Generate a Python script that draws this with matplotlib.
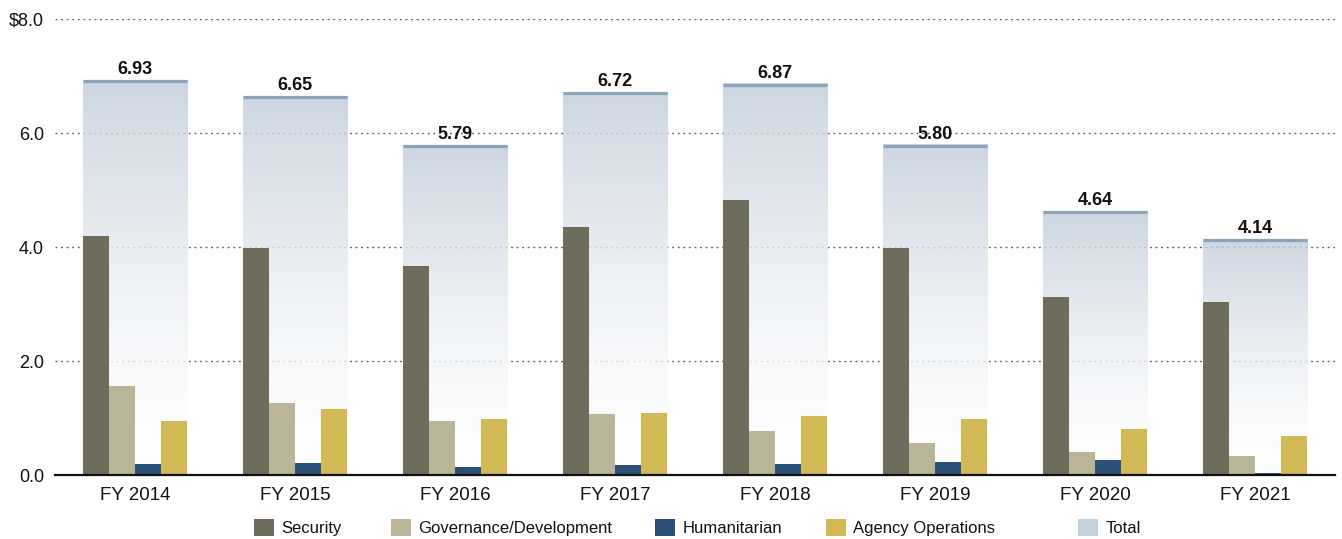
import numpy as np
import matplotlib
matplotlib.use("Agg")
import matplotlib.pyplot as plt
from matplotlib.colors import LinearSegmentedColormap
from matplotlib.patches import Patch

# ---- data ----
years = ["FY 2014", "FY 2015", "FY 2016", "FY 2017", "FY 2018", "FY 2019", "FY 2020", "FY 2021"]
security = [4.19, 3.98, 3.67, 4.35, 4.82, 3.98, 3.12, 3.04]
governance = [1.56, 1.26, 0.95, 1.07, 0.77, 0.56, 0.40, 0.33]
humanitarian = [0.19, 0.21, 0.14, 0.18, 0.19, 0.23, 0.26, 0.04]
agency_ops = [0.95, 1.16, 0.98, 1.09, 1.04, 0.98, 0.81, 0.69]
totals = [6.93, 6.65, 5.79, 6.72, 6.87, 5.80, 4.64, 4.14]
total_labels = ["6.93", "6.65", "5.79", "6.72", "6.87", "5.80", "4.64", "4.14"]
yticks = [0, 2, 4, 6, 8]
ytick_labels = ["0.0", "2.0", "4.0", "6.0", "$8.0"]
legend_names = ["Security", "Governance/Development", "Humanitarian", "Agency Operations", "Total"]

colors = ["#6e6c5c", "#bab597", "#2c4f78", "#d2b955"]
total_color = "#c5d0db"
top_line_color = "#8aa4b8"

plt.rcParams["font.family"] = ["Liberation Sans", "DejaVu Sans"]

fig = plt.figure(figsize=(13.42, 5.39), dpi=100)
ax = fig.add_axes([55 / 1342, 1 - 475 / 539, 1280 / 1342, (475 - 19) / 539])

x = np.arange(len(years))
sub_w = 0.164
tot_w = 4 * sub_w

ax.set_axisbelow(True)
ax.yaxis.grid(True, color="#666666", linewidth=1.0, linestyle=(0, (1.4, 2.6)), zorder=0)

# total bars (invisible patch used as clip for gradient)
tot_bars = ax.bar(x, totals, width=tot_w, color="none", edgecolor="none", zorder=1)
cmap = LinearSegmentedColormap.from_list("tot", ["#ffffff", "#c2cdda"])
grad = np.linspace(0, 1, 256).reshape(-1, 1) ** 1.5
for rect, t in zip(tot_bars.patches, totals):
    x0 = rect.get_x()
    im = ax.imshow(grad, extent=(x0, x0 + rect.get_width(), 0, t), origin="lower",
                   cmap=cmap, vmin=0, vmax=1, aspect="auto", alpha=0.82, zorder=1)
    im.set_clip_path(rect)
    ax.plot([x0, x0 + rect.get_width()], [t - 0.025, t - 0.025], color=top_line_color,
            linewidth=2.3, solid_capstyle="butt", zorder=3)

series = [security, governance, humanitarian, agency_ops]
for i, (vals, c) in enumerate(zip(series, colors)):
    offs = (i - 1.5) * sub_w
    ax.bar(x + offs, vals, width=sub_w, color=c, edgecolor="none", zorder=2)

for xi, t, lab in zip(x, totals, total_labels):
    ax.annotate(lab, (xi, t), xytext=(0, 4.0), textcoords="offset points",
                ha="center", va="baseline", fontsize=13, fontweight="bold", color="#111111")

ax.set_xlim(-0.5, 7.5)
ax.set_ylim(0, 8)
ax.set_xticks(x)
ax.set_xticklabels(years, fontsize=13.5, color="#111111")
ax.set_yticks(yticks)
ax.set_yticklabels(ytick_labels, fontsize=13, color="#111111")
ax.tick_params(axis="both", length=0)
ax.tick_params(axis="x", pad=9)
ax.tick_params(axis="y", pad=8)
for s in ["top", "right", "left"]:
    ax.spines[s].set_visible(False)
ax.spines["bottom"].set_linewidth(1.6)
ax.spines["bottom"].set_color("#111111")
ax.spines["bottom"].set_zorder(4)

# legend: one entry per anchor, placed as in the reference
leg_x_px = [254, 391, 655, 826, 1078]
leg_colors = colors + [total_color]
for name, c, px in zip(legend_names, leg_colors, leg_x_px):
    lg = fig.legend([Patch(facecolor=c, edgecolor="none")], [name], loc="center left",
                    bbox_to_anchor=(px / 1342, 1 - 527.5 / 539), frameon=False,
                    borderpad=0, borderaxespad=0, handlelength=1.2, handleheight=1.15,
                    handletextpad=0.45, prop={"size": 12})
    for t in lg.get_texts():
        t.set_color("#111111")

fig.savefig("out.png", dpi=100)
